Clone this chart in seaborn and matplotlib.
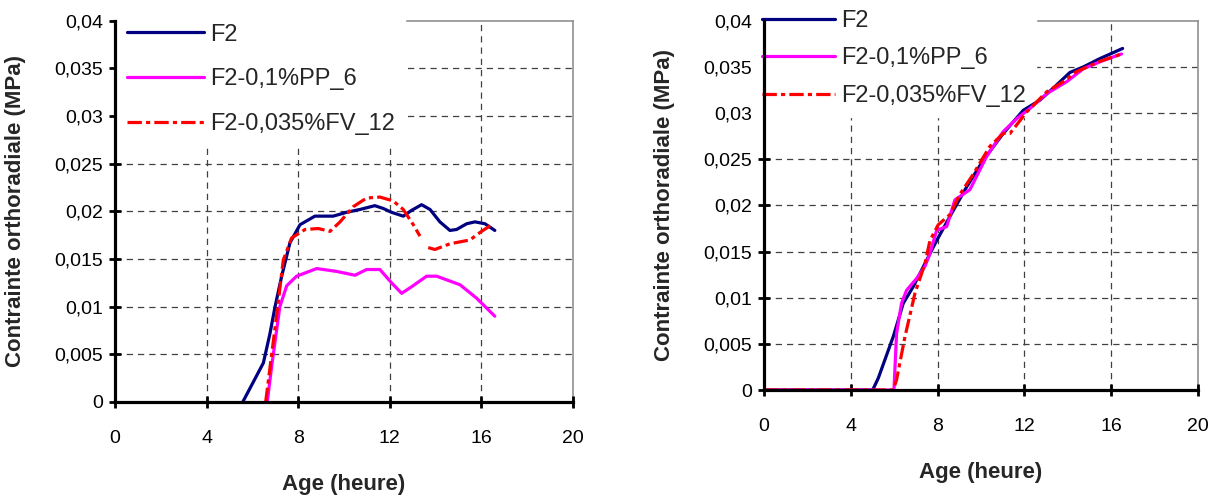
import matplotlib
matplotlib.use('Agg')
import matplotlib.pyplot as plt
import numpy as np
import pandas as pd
import seaborn as sns

# axes ticks
x_ticks = [0, 4, 8, 12, 16, 20]
y_ticks = [0, 0.005, 0.01, 0.015, 0.02, 0.025, 0.03, 0.035, 0.04]
y_tick_labels = ['0', '0,005', '0,01', '0,015', '0,02', '0,025', '0,03', '0,035', '0,04']
series_names = ['F2', 'F2-0,1%PP_6', 'F2-0,035%FV_12']

# left chart
left_f2_h = [5.58, 6.48, 6.77, 6.99, 7.28, 7.64, 8.08, 8.73, 9.53, 10.11, 10.70, 11.35, 11.72,
             12.08, 12.59, 12.95, 13.39, 13.76, 14.19, 14.63, 14.92, 15.36, 15.72, 16.16, 16.59]
left_f2_v = [0.0, 0.0041, 0.0072, 0.0100, 0.0132, 0.0167, 0.0186, 0.0195, 0.0195, 0.0199, 0.0202,
             0.0206, 0.0203, 0.0199, 0.0195, 0.0201, 0.0207, 0.0202, 0.0189, 0.0180, 0.0181,
             0.0187, 0.0189, 0.0187, 0.0180]
left_pp_h = [6.65, 6.84, 7.20, 7.50, 7.93, 8.81, 9.68, 10.48, 10.99, 11.57, 12.08, 12.52, 12.96,
             13.61, 14.05, 15.07, 15.79, 16.59]
left_pp_v = [0.0, 0.0037, 0.0100, 0.0122, 0.0132, 0.0140, 0.0137, 0.0133, 0.0139, 0.0139, 0.0125,
             0.0114, 0.0121, 0.0132, 0.0132, 0.0123, 0.0109, 0.0090]
left_fv_h = [6.58, 7.09, 7.35, 7.71, 8.30, 8.88, 9.39, 9.83, 10.41, 10.99, 11.57, 12.15, 12.59,
             13.03, 13.32]
left_fv_v = [0.0, 0.0097, 0.0149, 0.0172, 0.0181, 0.0182, 0.0179, 0.0189, 0.0205, 0.0214, 0.0215,
             0.0211, 0.0202, 0.0186, 0.0174]
left_fv2_h = [13.68, 13.97, 14.63, 15.50, 16.01, 16.52]
left_fv2_v = [0.0162, 0.0160, 0.0166, 0.0170, 0.0179, 0.0187]

# right chart
right_f2_h = [0.0, 5.01, 5.27, 5.96, 6.42, 6.88, 7.42, 7.96, 8.57, 9.34, 10.11, 11.03, 11.95,
              12.72, 13.33, 14.10, 14.72, 15.48, 16.53]
right_f2_v = [0.0, 0.0, 0.0013, 0.0058, 0.0094, 0.0112, 0.0137, 0.0162, 0.0188, 0.0220, 0.0249,
              0.0278, 0.0303, 0.0314, 0.0327, 0.0344, 0.0350, 0.0359, 0.0370]
right_pp_h = [0.0, 5.99, 6.11, 6.34, 6.57, 7.04, 7.42, 7.65, 7.96, 8.42, 8.80, 9.49, 10.26, 11.03,
              11.65, 12.26, 13.03, 13.95, 14.72, 15.64, 16.48]
right_pp_v = [0.0, 0.0, 0.0061, 0.0094, 0.0108, 0.0121, 0.0134, 0.0148, 0.0173, 0.0177, 0.0206,
              0.0217, 0.0253, 0.0280, 0.0294, 0.0305, 0.0321, 0.0334, 0.0348, 0.0357, 0.0364]
right_fv_h = [0.0, 5.96, 6.11, 6.50, 6.96, 7.42, 7.65, 8.03, 8.57, 9.03, 9.65, 10.41, 11.03, 11.34,
              12.10, 13.03, 13.79, 14.41, 15.48, 16.48]
right_fv_v = [0.0, 0.0, 0.0011, 0.0058, 0.0105, 0.0137, 0.0162, 0.0179, 0.0190, 0.0212, 0.0234,
              0.0264, 0.0278, 0.0278, 0.0301, 0.0323, 0.0334, 0.0345, 0.0356, 0.0364]

COLORS = ['#000080', '#ff00ff', '#ff0000']
LW = 2.3
DASH = (0, (4.5, 1.3, 1.3, 1.3))
FONT = ['Liberation Sans', 'DejaVu Sans']


def style_axes(ax, label_x, label_y):
    ax.set_xlim(0, 20)
    ax.set_ylim(0, 0.04)
    ax.set_xticks(x_ticks)
    ax.set_xticklabels([str(t) for t in x_ticks], fontsize=14)
    ax.set_yticks(y_ticks)
    ax.set_yticklabels(y_tick_labels, fontsize=14)
    ax.tick_params(axis='x', pad=16)
    ax.tick_params(axis='y', pad=4)
    for s in ['left', 'bottom']:
        ax.spines[s].set_color('black')
        ax.spines[s].set_linewidth(2.3)
        ax.spines[s].set_zorder(6)
    for s in ['top', 'right']:
        ax.spines[s].set_color('#909090')
        ax.spines[s].set_linewidth(1.2)
        ax.spines[s].set_zorder(0.5)
    # dashed grid (only inner lines)
    for t in x_ticks[1:-1]:
        ax.axvline(t, color='#404040', lw=0.9, ls=(0, (5, 4)), zorder=0)
    for t in y_ticks[1:-1]:
        ax.axhline(t, color='#404040', lw=0.9, ls=(0, (5, 4)), zorder=0)
    ax.set_xlabel('Age (heure)', fontsize=16, fontweight='bold')
    ax.set_ylabel('Contrainte orthoradiale (MPa)', fontsize=16, fontweight='bold')
    ax.xaxis.set_label_coords(0.5, label_x)
    ax.yaxis.set_label_coords(label_y, 0.5)


def draw(ax, f2, pp, fv_parts):
    sns.lineplot(x=f2[0], y=f2[1], ax=ax, color=COLORS[0], lw=LW, label=series_names[0],
                 sort=False, estimator=None, zorder=3)
    sns.lineplot(x=pp[0], y=pp[1], ax=ax, color=COLORS[1], lw=LW, label=series_names[1],
                 sort=False, estimator=None, zorder=3)
    for i, part in enumerate(fv_parts):
        sns.lineplot(x=part[0], y=part[1], ax=ax, color=COLORS[2], lw=LW, linestyle=DASH,
                     label=series_names[2] if i == 0 else None, sort=False, estimator=None,
                     zorder=3)


def white_legend(ax, anchor, spacing, hlen):
    leg = ax.legend(loc='upper left', bbox_to_anchor=anchor, fontsize=17, handlelength=hlen,
                    handletextpad=0.28, labelspacing=spacing, borderpad=0.4, borderaxespad=0.0,
                    frameon=True, fancybox=False)
    leg.get_frame().set_edgecolor('white')
    leg.get_frame().set_facecolor('white')
    leg.get_frame().set_alpha(1)
    # above the grid, below the curves
    leg.set_zorder(1)
    return leg


sns.set_style('white')
plt.rcParams['font.family'] = FONT
plt.rcParams.update({
    'xtick.bottom': True, 'ytick.left': True,
    'xtick.direction': 'inout', 'ytick.direction': 'inout',
    'xtick.major.size': 9, 'ytick.major.size': 9,
    'xtick.major.width': 2, 'ytick.major.width': 2,
    'xtick.color': 'black', 'ytick.color': 'black',
})

fig = plt.figure(figsize=(12.21, 4.99), dpi=100)
ax1 = fig.add_axes([0.0942, 0.1944, 0.375, 0.764])
ax2 = fig.add_axes([0.6257, 0.2184, 0.3554, 0.740])

draw(ax1, (left_f2_h, left_f2_v), (left_pp_h, left_pp_v),
     [(left_fv_h, left_fv_v), (left_fv2_h, left_fv2_v)])
draw(ax2, (right_f2_h, right_f2_v), (right_pp_h, right_pp_v),
     [(right_fv_h, right_fv_v)])

style_axes(ax1, -0.19, -0.195)
style_axes(ax2, -0.195, -0.205)

white_legend(ax1, (0.005, 1.017), 0.96, 3.26)
white_legend(ax2, (-0.027, 1.055), 0.66, 3.1)

fig.savefig('out.png', dpi=100)
